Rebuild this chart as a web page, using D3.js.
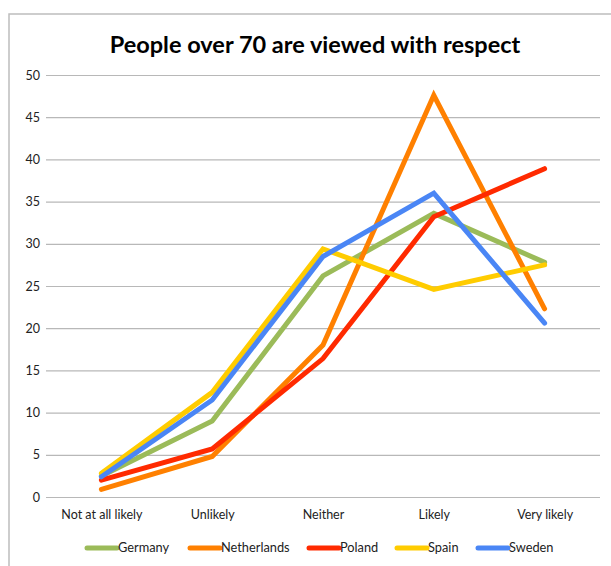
<!doctype html>
<html lang="en">
<head>
    <meta charset="UTF-8">
    <title>People over 70 are viewed with respect</title>
    <style>
        body {
            margin: 0;
            background: #fff;
        }

        .chart {
            display: block;
        }

        .axis text {
            font: 12.5px Lato, "Open Sans", sans-serif;
            fill: #222;
        }

        .axis path,
        .axis line {
            display: none;
        }

        .grid line {
            stroke: #b8b8b8;
            stroke-width: 1.2;
        }

        .grid path {
            display: none;
        }

        .series {
            fill: none;
            stroke-width: 5;
            stroke-linejoin: miter;
            stroke-linecap: round;
        }

        .legend text {
            font: 12.8px Lato, "Open Sans", sans-serif;
            fill: #222;
        }
    </style>
</head>

<body>
<svg class="chart"></svg>

<script src="https://d3js.org/d3.v7.min.js" charset="utf-8"></script>
<script>
    var categories = ["Not at all likely", "Unlikely", "Neither", "Likely", "Very likely"];
    var yTicks = [0, 5, 10, 15, 20, 25, 30, 35, 40, 45, 50];

    var seriesNames = ["Germany", "Netherlands", "Poland", "Spain", "Sweden"];
    var germany     = [2.5, 9.0, 26.2, 33.6, 27.8];
    var netherlands = [0.9, 4.8, 18.0, 47.6, 22.3];
    var poland      = [2.0, 5.7, 16.4, 33.2, 38.9];
    var spain       = [2.8, 12.4, 29.4, 24.6, 27.5];
    var sweden      = [2.4, 11.5, 28.5, 36.0, 20.6];
    var colors = ["#9bbb59", "#ff8000", "#ff2a00", "#ffcc00", "#4a86f5"];

    var series = [germany, netherlands, poland, spain, sweden].map(function(vals, i) {
        return {name: seriesNames[i], color: colors[i], values: vals};
    });

    var totalWidth = 611, totalHeight = 566;
    var margin = {top: 75, right: 11, bottom: 69, left: 46};
    var width = totalWidth - margin.left - margin.right;
    var height = totalHeight - margin.top - margin.bottom;

    var svg = d3.select(".chart")
        .attr("width", totalWidth)
        .attr("height", totalHeight);

    // outer frame
    svg.append("rect")
        .attr("x", 9).attr("y", 14)
        .attr("width", totalWidth + 10).attr("height", totalHeight + 10)
        .attr("fill", "none")
        .attr("stroke", "#bdbdbd")
        .attr("stroke-width", 1.5);

    // title
    svg.append("text")
        .attr("x", 315).attr("y", 53)
        .attr("text-anchor", "middle")
        .style("font", "bold 23.5px Lato, 'Open Sans', sans-serif")
        .style("fill", "#000")
        .text("People over 70 are viewed with respect");

    var g = svg.append("g")
        .attr("transform", "translate(" + margin.left + "," + margin.top + ")");

    var x = d3.scalePoint().domain(categories).range([0, width]).padding(0.5);
    var y = d3.scaleLinear().domain([0, 50]).range([height, 0]);

    // gridlines
    g.append("g").attr("class", "grid")
        .call(d3.axisLeft(y).tickValues(yTicks).tickSize(-width).tickFormat(""));

    // y-axis
    g.append("g").attr("class", "y axis")
        .attr("transform", "translate(-3,0)")
        .call(d3.axisLeft(y).tickValues(yTicks).tickSize(0));

    // x-axis
    g.append("g").attr("class", "x axis")
        .attr("transform", "translate(0," + height + ")")
        .call(d3.axisBottom(x).tickSize(0).tickPadding(13));

    var line = d3.line()
        .x(function(d, i) { return x(categories[i]); })
        .y(function(d) { return y(d); });

    g.selectAll(".series").data(series).enter()
        .append("path").attr("class", "series")
        .attr("stroke", function(d) { return d.color; })
        .attr("d", function(d) { return line(d.values); });

    // legend
    var legendX = [87, 190, 309, 397, 478];
    var legend = svg.append("g").attr("class", "legend");
    var item = legend.selectAll("g").data(series).enter()
        .append("g")
        .attr("transform", function(d, i) { return "translate(" + legendX[i] + ",548)"; });
    item.append("line")
        .attr("x1", 0).attr("x2", 30)
        .attr("stroke", function(d) { return d.color; })
        .attr("stroke-width", 5)
        .attr("stroke-linecap", "round");
    item.append("text")
        .attr("x", 31).attr("dy", "0.35em")
        .text(function(d) { return d.name; });
</script>
</body>
</html>
